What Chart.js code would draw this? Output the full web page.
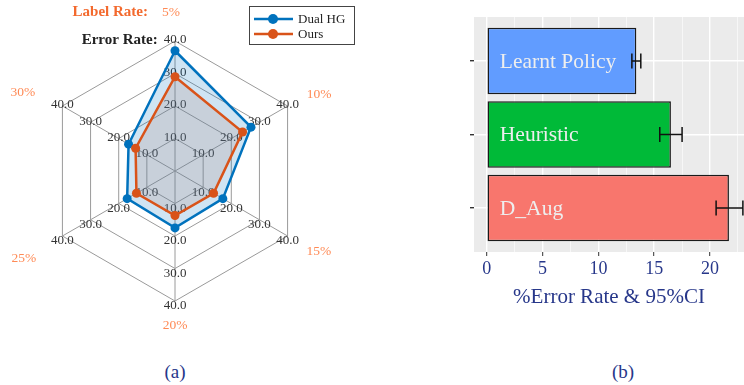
<!DOCTYPE html>
<html>
<head>
<meta charset="utf-8">
<script src="https://cdn.jsdelivr.net/npm/chart.js@4.4.1/dist/chart.umd.min.js"></script>
<style>
  html, body { margin: 0; padding: 0; background: #fff; }
  #page { position: relative; width: 744px; height: 385px; overflow: hidden; font-family: 'Liberation Serif', serif; }
  #radar { position: absolute; left: 0; top: 0; }
  #bars { position: absolute; left: 460px; top: 0; }
  .cap { position: absolute; top: 361px; font-size: 19px; line-height: 22px; color: #27378a; transform: translateX(-50%); }
</style>
</head>
<body>
<div id="page">
  <canvas id="radar" width="360" height="345"></canvas>
  <canvas id="bars" width="284" height="340"></canvas>
  <div class="cap" style="left:175px">(a)</div>
  <div class="cap" style="left:623px">(b)</div>
</div>
<script>
// (a) error rate per label rate
const labelRates = ['5%', '10%', '15%', '20%', '25%', '30%'];
const dualHG = [37, 27, 17, 17.5, 17, 16.5];
const ours = [29, 24, 13.7, 13.7, 13.7, 14];
const radarTicks = [10, 20, 30, 40];

// (b) error rate with 95% confidence interval
const methods = ['Learnt Policy', 'Heuristic', 'D_Aug'];
const errorRate = [13.4, 16.5, 21.7];
const ciLow = [13.0, 15.5, 20.55];
const ciHigh = [13.8, 17.5, 22.95];
const xTicks = [0, 5, 10, 15, 20];

const SERIF = "'Liberation Serif', serif";
const NAVY = '#27378a';

// ---------- radar ----------
const radarDecor = {
  id: 'radarDecor',
  beforeDatasetsDraw(chart) {
    const s = chart.scales.r, ctx = chart.ctx;
    ctx.save();
    ctx.font = '13px ' + SERIF;
    ctx.fillStyle = '#333';
    ctx.textAlign = 'center';
    ctx.textBaseline = 'middle';
    labelRates.forEach((_, i) => {
      const dy = (i >= 2 && i <= 4) ? 5 : -1;
      radarTicks.forEach(v => {
        const p = s.getPointPositionForValue(i, v);
        ctx.fillText(v.toFixed(1), p.x, p.y + dy);
      });
    });
    ctx.restore();
  },
  afterDraw(chart) {
    const s = chart.scales.r, ctx = chart.ctx;
    // radial distance and horizontal spread of the label-rate captions
    const fr = [1.22, 1.18, 1.24, 1.19, 1.343, 1.206];
    const sx = [1, 1.085, 1.03, 1, 1.0, 1.12];
    ctx.save();
    ctx.textAlign = 'center';
    ctx.textBaseline = 'middle';
    ctx.font = '13.5px ' + SERIF;
    ctx.fillStyle = '#ff8a55';
    let top = null;
    labelRates.forEach((t, i) => {
      const p = s.getPointPosition(i, s.drawingArea * fr[i]);
      const x = s.xCenter + (p.x - s.xCenter) * sx[i] - (i === 0 ? 4 : 0);
      ctx.fillText(t, x, p.y);
      if (i === 0) top = {x, y: p.y, w: ctx.measureText(t).width};
    });
    // axis captions
    ctx.font = 'bold 15px ' + SERIF;
    ctx.textAlign = 'right';
    ctx.fillStyle = '#f3692d';
    ctx.fillText('Label Rate:', top.x - top.w / 2 - 14, top.y);
    const p40 = s.getPointPositionForValue(0, radarTicks[radarTicks.length - 1]);
    ctx.font = '13px ' + SERIF;
    const w40 = ctx.measureText('40.0').width;
    ctx.font = 'bold 15px ' + SERIF;
    ctx.fillStyle = '#222';
    ctx.fillText('Error Rate:', p40.x - w40 / 2 - 6, p40.y - 1);

    // legend
    const x0 = 249, y0 = 6, w = 105, h = 38;
    ctx.fillStyle = '#fff';
    ctx.fillRect(x0, y0, w, h);
    ctx.strokeStyle = '#444';
    ctx.lineWidth = 1;
    ctx.strokeRect(x0 + 0.5, y0 + 0.5, w, h);
    ctx.textAlign = 'left';
    ctx.font = '13px ' + SERIF;
    chart.data.datasets.forEach((ds, i) => {
      const y = y0 + 13 + i * 15;
      ctx.strokeStyle = ds.borderColor;
      ctx.lineWidth = 2.5;
      ctx.beginPath(); ctx.moveTo(x0 + 5, y); ctx.lineTo(x0 + 44, y); ctx.stroke();
      ctx.fillStyle = ds.borderColor;
      ctx.beginPath(); ctx.arc(x0 + 24, y, 5, 0, Math.PI * 2); ctx.fill();
      ctx.fillStyle = '#222';
      ctx.fillText(ds.label, x0 + 49, y + 1);
    });
    ctx.restore();
  }
};

new Chart(document.getElementById('radar'), {
  type: 'radar',
  data: {
    labels: labelRates,
    datasets: [
      { label: 'Dual HG', data: dualHG, borderColor: '#0072BD', backgroundColor: 'rgba(0,114,189,0.19)',
        fill: true, borderWidth: 2.5, pointRadius: 4.5, pointBackgroundColor: '#0072BD',
        pointBorderColor: '#0072BD', pointBorderWidth: 0, order: 1 },
      { label: 'Ours', data: ours, borderColor: '#D95319', backgroundColor: 'rgba(170,130,120,0.2)',
        fill: true, borderWidth: 2.5, pointRadius: 4.5, pointBackgroundColor: '#D95319',
        pointBorderColor: '#D95319', pointBorderWidth: 0, order: 0 }
    ]
  },
  options: {
    responsive: false,
    animation: false,
    layout: { padding: { left: 44, right: 54, top: 41, bottom: 43 } },
    plugins: { legend: { display: false }, tooltip: { enabled: false } },
    elements: { line: { tension: 0 } },
    scales: {
      r: {
        min: 0, max: 40,
        ticks: { stepSize: 10, display: false },
        pointLabels: { display: false },
        grid: { color: '#9a9a9a', lineWidth: 1 },
        angleLines: { color: '#9a9a9a', lineWidth: 1 }
      }
    }
  },
  plugins: [radarDecor]
});

// ---------- bars ----------
const panelBg = {
  id: 'panelBg',
  beforeDraw(chart) {
    const a = chart.chartArea, ctx = chart.ctx;
    ctx.save();
    ctx.fillStyle = '#ebebeb';
    ctx.fillRect(a.left, a.top, a.right - a.left, a.bottom - a.top);
    ctx.restore();
  }
};

const barDecor = {
  id: 'barDecor',
  afterDatasetsDraw(chart) {
    const ctx = chart.ctx, xs = chart.scales.x;
    const meta = chart.getDatasetMeta(0);
    ctx.save();
    // names inside bars
    ctx.font = '21.5px ' + SERIF;
    ctx.fillStyle = '#eeeeee';
    ctx.textAlign = 'left';
    ctx.textBaseline = 'middle';
    meta.data.forEach((bar, i) => {
      ctx.fillText(methods[i], xs.getPixelForValue(0) + 13, bar.y + 1);
    });
    // confidence intervals
    ctx.strokeStyle = '#111';
    ctx.lineWidth = 1.5;
    meta.data.forEach((bar, i) => {
      const x1 = xs.getPixelForValue(ciLow[i]), x2 = xs.getPixelForValue(ciHigh[i]);
      const y = bar.y, c = 7.5;
      ctx.beginPath();
      ctx.moveTo(x1, y); ctx.lineTo(x2, y);
      ctx.moveTo(x1, y - c); ctx.lineTo(x1, y + c);
      ctx.moveTo(x2, y - c); ctx.lineTo(x2, y + c);
      ctx.stroke();
    });
    ctx.restore();
  }
};

const isMajor = v => xTicks.includes(v);

new Chart(document.getElementById('bars'), {
  type: 'bar',
  data: {
    datasets: [{
      data: methods.map((m, i) => ({ x: errorRate[i], y: i + 1 })),
      backgroundColor: ['#619CFF', '#00BA38', '#F8766D'],
      borderColor: '#1a1a1a',
      borderWidth: 1.5,
      borderSkipped: false,
      barPercentage: 1,
      categoryPercentage: 0.907
    }]
  },
  options: {
    indexAxis: 'y',
    responsive: false,
    animation: false,
    layout: { padding: { left: 10, right: 0, top: 17, bottom: 30 } },
    plugins: { legend: { display: false }, tooltip: { enabled: false } },
    scales: {
      x: {
        type: 'linear', min: -1.15, max: 23.05,
        ticks: {
          stepSize: 2.5, includeBounds: false, autoSkip: false, maxRotation: 0,
          color: NAVY, font: { family: SERIF, size: 18 }, padding: 2,
          callback: v => isMajor(v) ? String(v) : ''
        },
        grid: {
          color: '#ffffff',
          lineWidth: c => isMajor(c.tick.value) ? 1.4 : 0.6,
          tickColor: c => isMajor(c.tick.value) ? '#333' : 'rgba(0,0,0,0)',
          tickLength: 4, tickWidth: 1
        },
        border: { display: false },
        title: { display: true, text: '%Error Rate & 95%CI', color: NAVY,
                 font: { family: SERIF, size: 21 }, padding: { top: 0, bottom: 0 } },
        afterFit(s) { s.height = 58; }
      },
      y: {
        type: 'linear', min: 0.4, max: 3.6, reverse: true, offset: false,
        afterBuildTicks(s) { s.ticks = methods.map((m, i) => ({ value: i + 1 })); },
        ticks: { display: false },
        grid: { color: '#ffffff', lineWidth: 1.4, tickColor: '#333', tickLength: 4, offset: false },
        border: { display: false }
      }
    }
  },
  plugins: [panelBg, barDecor]
});
</script>
</body>
</html>
